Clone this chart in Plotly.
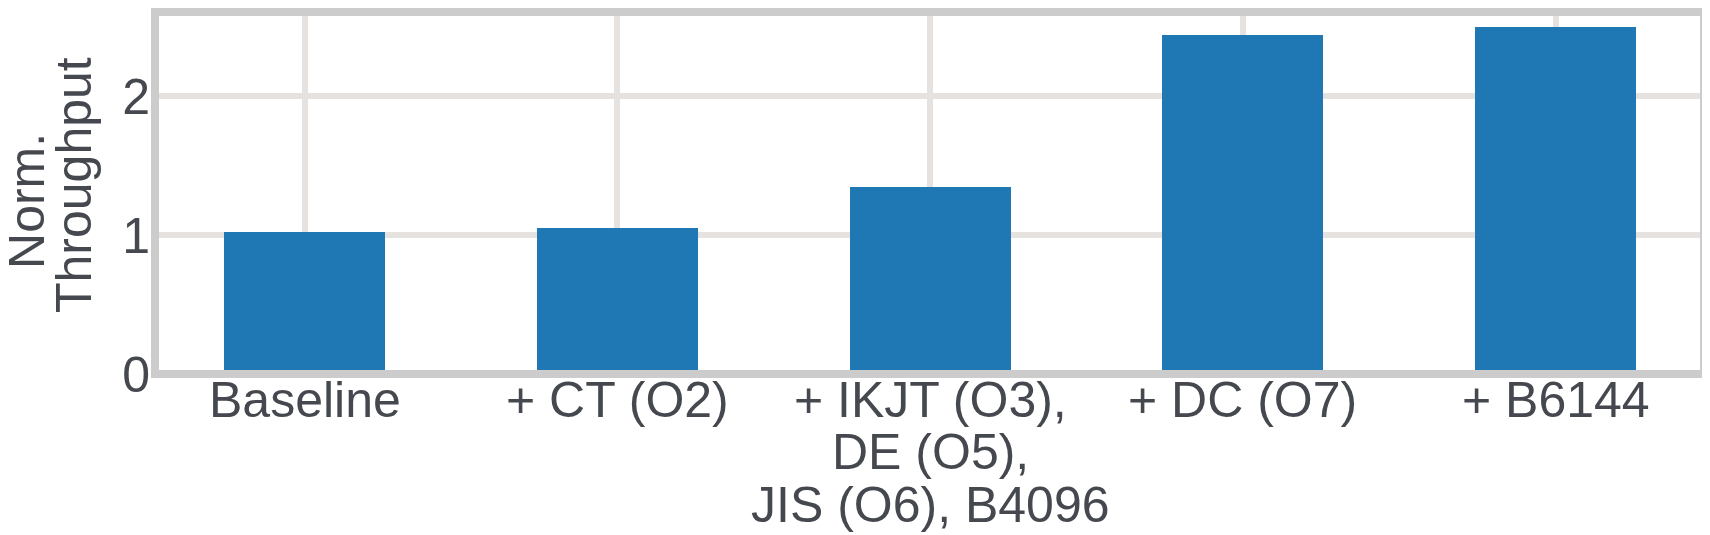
import plotly.graph_objects as go

## DATA
categories = ["Baseline", "+ CT (O2)", "+ IKJT (O3),", "+ DC (O7)", "+ B6144"]
label_lines = [
    ["Baseline"],
    ["+ CT (O2)"],
    ["+ IKJT (O3),", "DE (O5),", "JIS (O6), B4096"],
    ["+ DC (O7)"],
    ["+ B6144"],
]
throughput = [1.02, 1.05, 1.35, 2.44, 2.50]
ytick_vals = [0, 1, 2]
ytick_text = ["0", "1", "2"]

## STYLE
FONT = "Liberation Sans"
TEXT_COLOR = "#45494f"
BAR_COLOR = "#1f77b4"
GRID_COLOR = "#e6e2df"
SPINE_COLOR = "#cccccc"
FS = 50

fig = go.Figure()
fig.add_trace(go.Bar(
    x=list(range(len(categories))),
    y=throughput,
    width=0.515,
    marker=dict(color=BAR_COLOR, line=dict(width=0)),
))

# x tick labels as annotations (tight multi-line spacing like the original)
line_y = [-0.0718, -0.2163, -0.3610]
annotations = []
for i, lines in enumerate(label_lines):
    for j, txt in enumerate(lines):
        annotations.append(dict(
            x=i, xref="x", y=line_y[j], yref="paper",
            text=txt, showarrow=False, xanchor="center", yanchor="middle",
            font=dict(family=FONT, size=FS, color=TEXT_COLOR),
        ))

# y-axis title, two lines
annotations.append(dict(x=0, xref="paper", xshift=-128, y=0.478, yref="paper",
                        text="Norm.", textangle=-90, showarrow=False,
                        xanchor="center", yanchor="middle",
                        font=dict(family=FONT, size=FS, color=TEXT_COLOR)))
annotations.append(dict(x=0, xref="paper", xshift=-81, y=0.522, yref="paper",
                        text="Throughput", textangle=-90, showarrow=False,
                        xanchor="center", yanchor="middle",
                        font=dict(family=FONT, size=FS, color=TEXT_COLOR)))

# page body has an 8px margin, so the figure is 8px smaller and shifted
fig.update_layout(
    width=1702, height=527,
    margin=dict(l=147, r=6, t=4, b=161),
    plot_bgcolor="white", paper_bgcolor="white",
    showlegend=False,
    bargap=0,
    annotations=annotations,
    shapes=[dict(type="rect", xref="paper", yref="paper", x0=0, x1=1, y0=0, y1=1,
                 line=dict(color=SPINE_COLOR, width=8), layer="above")],
    font=dict(family=FONT, size=FS, color=TEXT_COLOR),
)
fig.update_xaxes(
    range=[-0.478, 4.474],
    tickvals=list(range(len(categories))),
    showticklabels=False,
    showgrid=True, gridcolor=GRID_COLOR, gridwidth=6,
    showline=False, zeroline=False, ticks="",
)
fig.update_yaxes(
    range=[0, 2.607],
    tickvals=ytick_vals, ticktext=ytick_text,
    tickfont=dict(family=FONT, size=FS, color=TEXT_COLOR),
    showgrid=True, gridcolor=GRID_COLOR, gridwidth=6,
    showline=False, zeroline=False, ticks="",
    ticklabelstandoff=4,
)

fig.write_html("out.html")
